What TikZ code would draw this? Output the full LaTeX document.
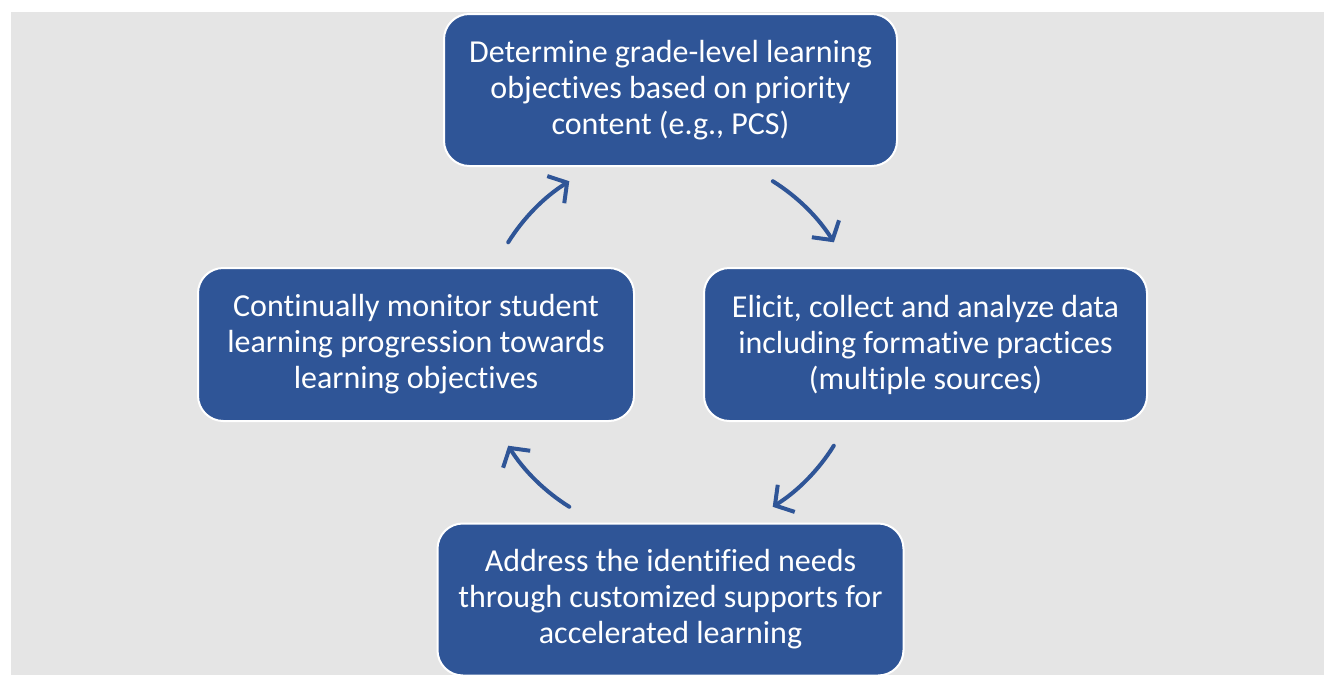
\documentclass[tikz,border=0pt]{standalone}
\usepackage{fontspec}
\setmainfont{Carlito}[Ligatures={NoCommon,NoContextual}]
\usetikzlibrary{arrows.meta}
\definecolor{boxblue}{HTML}{2F5597}
\definecolor{bggray}{HTML}{E5E5E5}
\tikzset{
  stepbox/.style={rectangle, rounded corners=19pt, fill=boxblue, draw=white, line width=1.5pt,
    text=white, align=center, font=\fontsize{24}{27}\selectfont, inner sep=0pt},
  cyclearrow/.style={draw=boxblue, line width=3pt, line cap=round,
    -{Straight Barb[length=10pt, width=24pt, line width=3pt]}}
}
\begin{document}
\begin{tikzpicture}[x=0.75pt, y=-0.75pt]
\useasboundingbox (0,0) rectangle (1324,675);
\fill[bggray] (11,12) rectangle (1324,675);
\node[stepbox, minimum width=339.75pt, minimum height=114pt] (top) at (670.5,90)
  {Determine grade-level learning\\objectives based on priority\\content (e.g., PCS)};
\node[stepbox, minimum width=332.25pt, minimum height=114.75pt] (right) at (925.5,344.5)
  {Elicit, collect and analyze data\\including formative practices\\(multiple sources)};
\node[stepbox, minimum width=349.5pt, minimum height=114pt] (bottom) at (670.5,599.5)
  {Address the identified needs\\through customized supports for\\accelerated learning};
\node[stepbox, minimum width=327pt, minimum height=114.75pt] (left) at (416,344.5)
  {Continually monitor student\\learning progression towards\\learning objectives};
\coordinate (a1) at (508.2,242.3);
\coordinate (a2) at (772.8,181.2);
\coordinate (a3) at (833.8,445.7);
\coordinate (a4) at (569.3,506.8);
\draw[cyclearrow] (a1) arc[start angle=-148, end angle=-122, radius=192];
\draw[cyclearrow] (a2) arc[start angle=-58, end angle=-32, radius=192];
\draw[cyclearrow] (a3) arc[start angle=32, end angle=58, radius=192];
\draw[cyclearrow] (a4) arc[start angle=122, end angle=148, radius=192];
\end{tikzpicture}
\end{document}
